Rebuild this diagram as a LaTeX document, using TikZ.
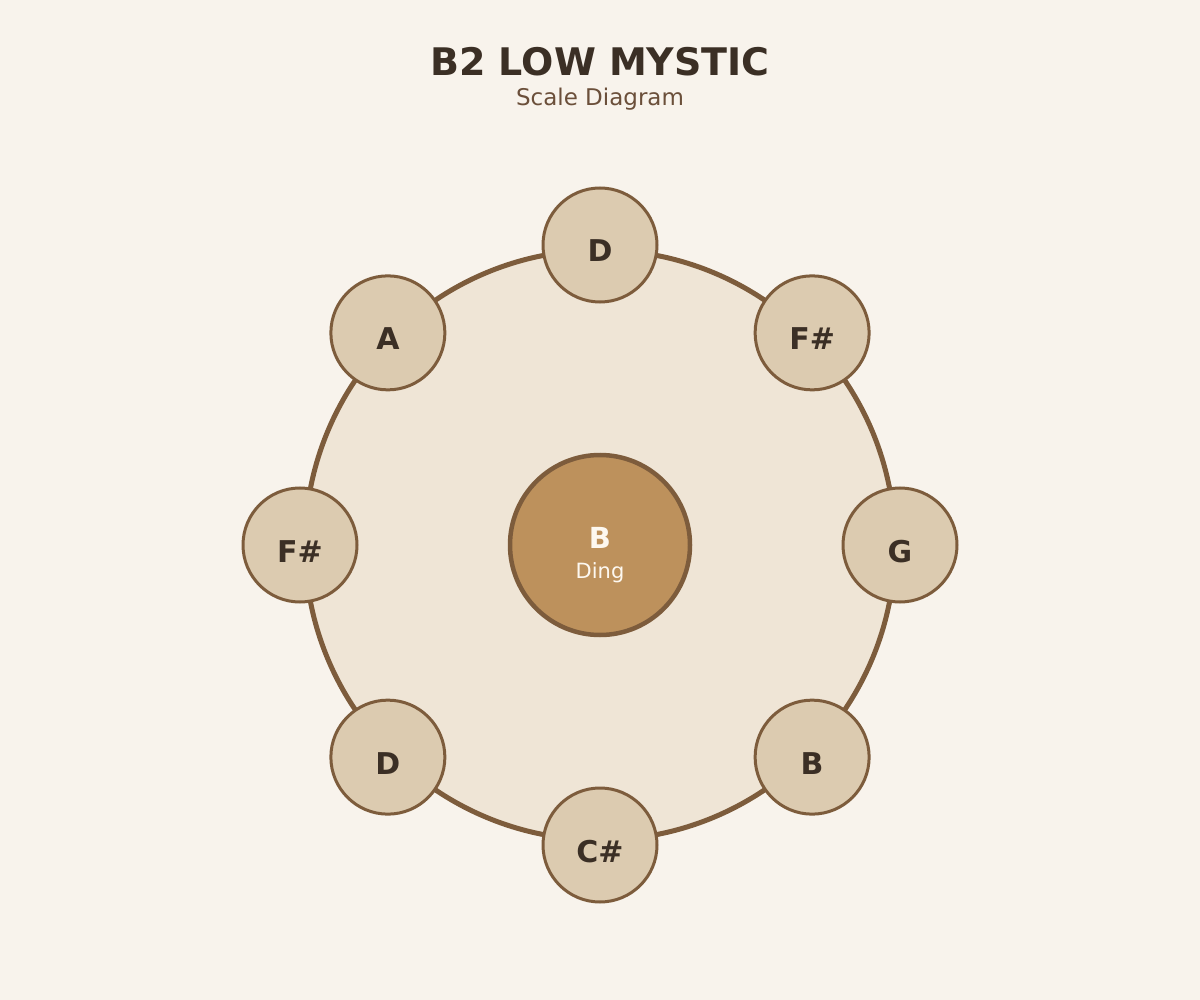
\documentclass[tikz,border=0pt]{standalone}
\usepackage{fontspec}
\usetikzlibrary{calc}
\setmainfont{DejaVu Sans}
\definecolor{bg}{HTML}{F8F3EC}
\definecolor{ring}{HTML}{EFE5D6}
\definecolor{stroke}{HTML}{7D5C3C}
\definecolor{notefill}{HTML}{DCCBB0}
\definecolor{dingfill}{HTML}{BD915C}
\definecolor{ink}{HTML}{3B2F25}
\definecolor{subink}{HTML}{6B4F3A}
\definecolor{dingink}{HTML}{FDF8F0}
\begin{document}
\begin{tikzpicture}[x=1pt,y=-1pt,
  note/.style={circle,draw=stroke,line width=3pt,fill=notefill,minimum size=114pt,inner sep=0pt},
  notelabel/.style={anchor=base,text=ink,font=\fontsize{30}{30}\selectfont\bfseries},
]
\fill[bg] (0,0) rectangle (1200,1000);
\useasboundingbox (0,0) rectangle (1200,1000);
\node[anchor=base,text=ink,font=\fontsize{38}{38}\selectfont\bfseries] (title) at (600,76) {B2 LOW MYSTIC};
\node[anchor=base,text=subink,font=\fontsize{23}{23}\selectfont] (sub) at (600,106) {Scale Diagram};
\node[circle,draw=stroke,line width=5pt,fill=ring,minimum size=590pt,inner sep=0pt] (body) at (600,545) {};
\node[circle,draw=stroke,line width=4.5pt,fill=dingfill,minimum size=180pt,inner sep=0pt] (ding) at (600,545) {};
\node[anchor=base,text=dingink,font=\fontsize{29}{29}\selectfont\bfseries] (dingB) at (600,548) {B};
\node[anchor=base,text=dingink,font=\fontsize{21}{21}\selectfont] (dingT) at (600,578) {Ding};
\foreach \name/\lab/\ang in {n1/D/-90,n2/F\#/-45,n3/G/0,n4/B/45,n5/C\#/90,n6/D/135,n7/F\#/180,n8/A/225}{
  \node[note] (\name) at ($(600,545)+(\ang:300)$) {};
  \node[notelabel] (\name l) at ($(\name.center)+(0,17)$) {\lab};
}
\end{tikzpicture}
\end{document}
